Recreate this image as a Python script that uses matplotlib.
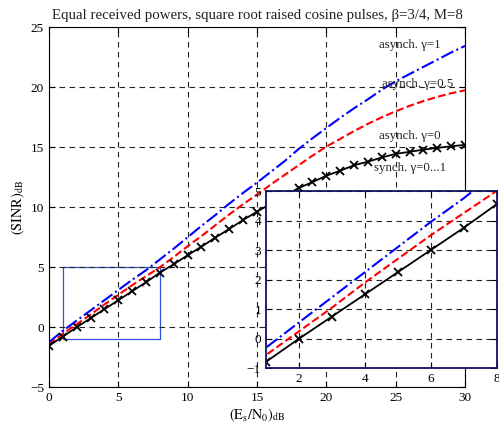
import matplotlib
matplotlib.use('Agg')
import matplotlib.pyplot as plt
from matplotlib.patches import Rectangle

plt.rcParams['font.family'] = ['Liberation Serif', 'DejaVu Serif']
plt.rcParams['mathtext.fontset'] = 'stix'
plt.rcParams['font.size'] = 9

# Es/N0 in dB
snr = list(range(0, 31))

# asynch. gamma=1
sinr_async_1 = [-1.25, -0.3, 0.55, 1.4, 2.25, 3.1, 3.95, 4.75, 5.65, 6.55,
                7.5, 8.45, 9.35, 10.3, 11.2, 12.05, 12.95, 13.85, 14.85, 15.75,
                16.6, 17.45, 18.25, 19.0, 19.8, 20.5, 21.1, 21.7, 22.3, 22.9, 23.45]
# asynch. gamma=0.5
sinr_async_05 = [-1.45, -0.55, 0.25, 1.05, 1.9, 2.7, 3.5, 4.25, 5.0, 5.85,
                 6.75, 7.6, 8.5, 9.4, 10.25, 11.05, 11.9, 12.7, 13.5, 14.3,
                 15.05, 15.7, 16.35, 16.95, 17.5, 18.0, 18.45, 18.85, 19.2, 19.5, 19.75]
# synch. gamma=0...1 (same as asynch. gamma=0)
sinr_sync = [-1.55, -0.78, 0.0, 0.75, 1.5, 2.25, 3.0, 3.75, 4.55, 5.25,
             6.0, 6.72, 7.47, 8.19, 8.94, 9.63, 10.3, 10.95, 11.6, 12.1,
             12.63, 13.05, 13.5, 13.8, 14.15, 14.45, 14.62, 14.8, 14.95, 15.08, 15.2]

zoom_x = (1, 8)
zoom_y = (-1, 5)

fig = plt.figure(figsize=(4.99, 4.26), dpi=100)
ax = fig.add_axes([0.098, 0.091, 0.834, 0.845])


def draw_curves(a, markersize=6):
    a.plot(snr, sinr_async_1, '-.', color='blue', lw=1.5)
    a.plot(snr, sinr_async_05, '--', color='red', lw=1.5)
    a.plot(snr, sinr_sync, '-', color='black', lw=1.3,
           marker='x', markersize=markersize, markeredgewidth=1.3)


def style_axes(a):
    a.grid(True, color='#222222', linestyle=(0, (5, 4)), linewidth=0.8)
    a.tick_params(direction='in', top=True, right=True, length=4, labelsize=9.5)


draw_curves(ax)
ax.add_patch(Rectangle((zoom_x[0], zoom_y[0]), zoom_x[1] - zoom_x[0],
                       zoom_y[1] - zoom_y[0], fill=False, edgecolor='#3050e0', lw=0.9))
ax.set_xlim(0, 30)
ax.set_ylim(-5, 25)
ax.set_xticks(range(0, 31, 5))
ax.set_yticks(range(-5, 26, 5))
style_axes(ax)
ax.set_title('Equal received powers, square root raised cosine pulses, β=3/4, M=8',
             fontsize=10.7, pad=6, color='#222222')
ax.set_xlabel(r'$(\mathrm{E_s/N_0})_{\mathrm{dB}}$', fontsize=10.3, labelpad=2)
ax.set_ylabel(r'$(\mathrm{SINR})_{\mathrm{dB}}$', fontsize=10.3, labelpad=2)

lab = dict(ha='center', va='center', fontsize=9.3, color='#222222')
ax.text(26.0, 23.5, 'asynch. γ=1', **lab)
ax.text(26.6, 20.3, 'asynch. γ=0.5', **lab)
ax.text(26.0, 15.9, 'asynch. γ=0', **lab)
ax.text(26.0, 13.3, 'synch. γ=0...1', **lab)

# zoomed inset
ins = fig.add_axes([0.533, 0.1354, 0.462, 0.4162])
ins.set_facecolor('white')
draw_curves(ins)
ins.set_xlim(*zoom_x)
ins.set_ylim(*zoom_y)
ins.set_xticks([2, 4, 6, 8])
ins.set_yticks(range(-1, 6))
style_axes(ins)
for s in ins.spines.values():
    s.set_color('#101060')
    s.set_linewidth(1.3)

fig.savefig('out.png', dpi=100)
